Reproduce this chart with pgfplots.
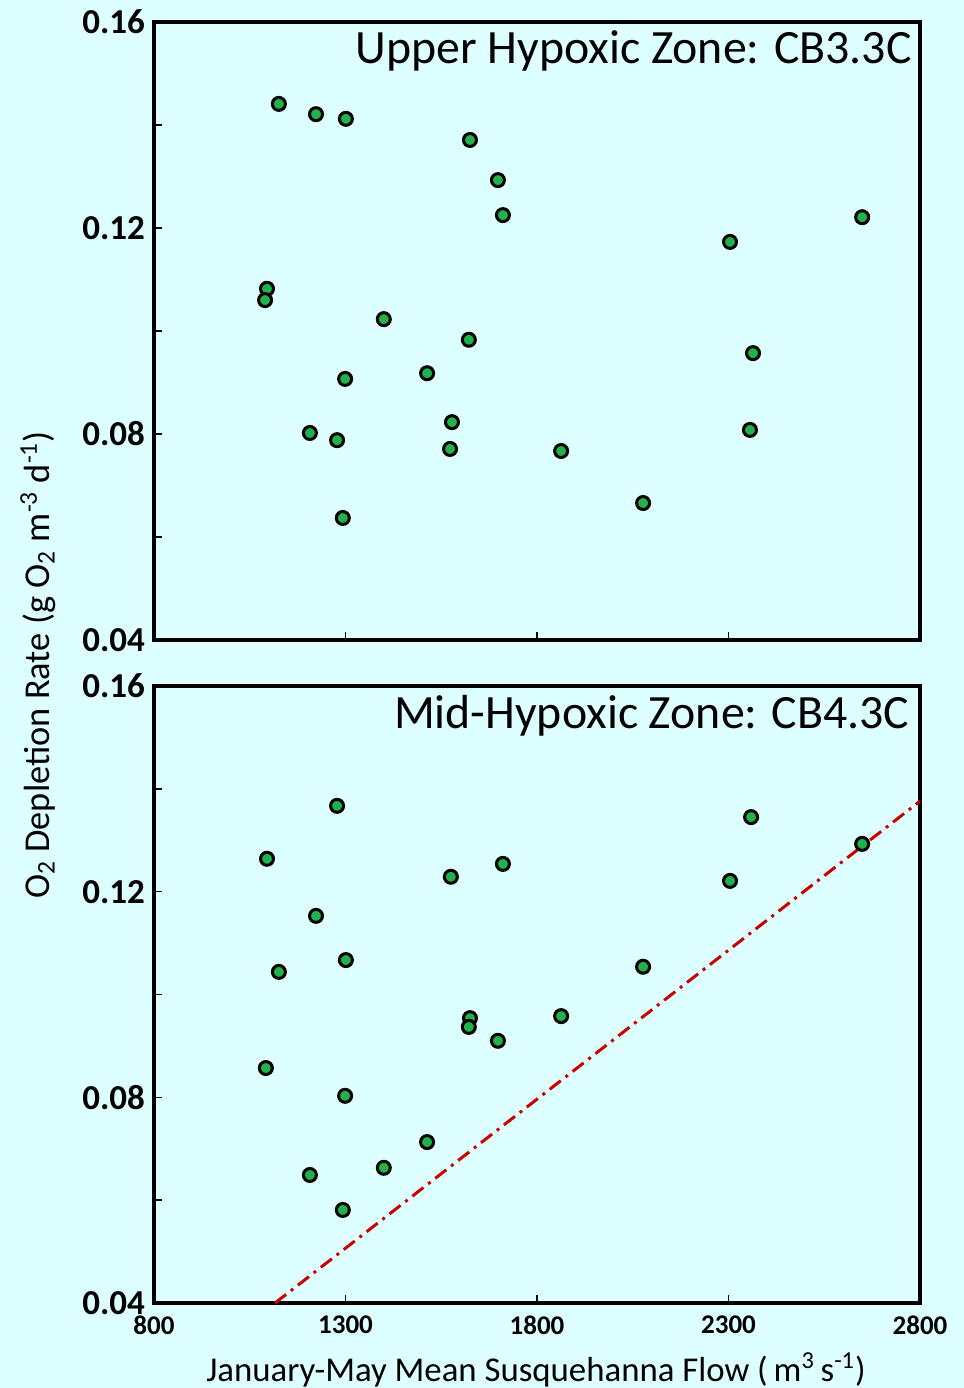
\documentclass[border=0pt]{standalone}
\usepackage{pgfplots}
\pgfplotsset{compat=1.18}
\usepackage{fontspec}
\setmainfont{Carlito}
\definecolor{bg}{RGB}{222,255,255}
\definecolor{ptgreen}{RGB}{34,177,76}
\definecolor{lred}{RGB}{204,0,0}

\pgfplotstableread{
x y
1126 0.1441
1223 0.1421
1301 0.1412
1625 0.1371
1698 0.1293
1711 0.1225
2649 0.1221
2304 0.1173
1095 0.1082
1090 0.1060
1400 0.1023
1622 0.0983
2364 0.0957
1299 0.0907
1513 0.0918
1578 0.0823
1207 0.0802
1278 0.0788
1573 0.0771
1863 0.0767
2356 0.0808
1293 0.0637
2077 0.0666
}\uppertab

\pgfplotstableread{
x y
1278 0.1367
2359 0.1345
2649 0.1293
1095 0.1264
1711 0.1254
1575 0.1229
2304 0.1221
1223 0.1153
1301 0.1067
1126 0.1044
2077 0.1054
1863 0.0958
1625 0.0954
1622 0.0937
1698 0.0910
1092 0.0857
1299 0.0803
1513 0.0713
1400 0.0663
1207 0.0649
1293 0.0581
}\midtab

\pgfplotstableread{
x y
1116 0.0400
2800 0.1376
}\linetab

\begin{document}
\begin{tikzpicture}
\fill[bg] (0pt,0pt) rectangle (482pt,-694pt);
\pgfplotsset{
  myax/.style={
    scale only axis, width=383pt,
    xmin=800, xmax=2800, ymin=0.04, ymax=0.16,
    axis line style={line width=2pt, black},
    tick style={line width=0.8pt, black},
    major tick length=4pt, tick align=inside, tick pos=left,
    xtick={800,1300,1800,2300,2800},
    ytick={0.04,0.06,0.08,0.10,0.12,0.14,0.16},
    yticklabels={0.04,,0.08,,0.12,,0.16},
    /pgf/number format/assume math mode=true,
    yticklabel style={font=\bfseries\fontsize{17.5}{19}\selectfont, text=black, xshift=-1pt},
    xticklabel style={font=\bfseries\fontsize{13.5}{15}\selectfont, text=black, yshift=-3pt},
    axis background/.style={fill=bg},
    clip=false,
  },
  mymark/.style={only marks, mark=*, mark size=3.25pt,
    mark options={fill=ptgreen, draw=black, line width=1.5pt}},
}
\begin{axis}[myax, height=309pt, at={(77pt,-11pt)}, anchor=north west,
  xticklabels={,,,,}]
\addplot[mymark] table[x=x,y=y] {\uppertab};
\end{axis}
\begin{axis}[myax, height=308.5pt, at={(77pt,-343pt)}, anchor=north west,
  xticklabels={800,1300,1800,2300,2800}]
\addplot[lred, line width=1.5pt, dash pattern=on 7pt off 3pt on 1.5pt off 3pt] table[x=x,y=y] {\linetab};
\addplot[mymark] table[x=x,y=y] {\midtab};
\end{axis}
\node[anchor=base east, font=\fontsize{23.9}{26}\selectfont, inner sep=0pt] at (456pt,-31.5pt) {Upper Hypoxic Zone: CB3.3C};
\node[anchor=base east, font=\fontsize{23.9}{26}\selectfont, inner sep=0pt] at (455pt,-364pt) {Mid-Hypoxic Zone: CB4.3C};
\node[font=\fontsize{17.4}{19}\selectfont, inner sep=0pt] at (268pt,-685pt) {January-May Mean Susquehanna Flow (\,m\textsuperscript{3}\,s\textsuperscript{-1})};
\node[rotate=90, font=\fontsize{18.2}{20}\selectfont, inner sep=0pt] at (19pt,-332.5pt) {O\textsubscript{2} Depletion Rate (g O\textsubscript{2} m\textsuperscript{-3} d\textsuperscript{-1})};
\end{tikzpicture}
\end{document}
